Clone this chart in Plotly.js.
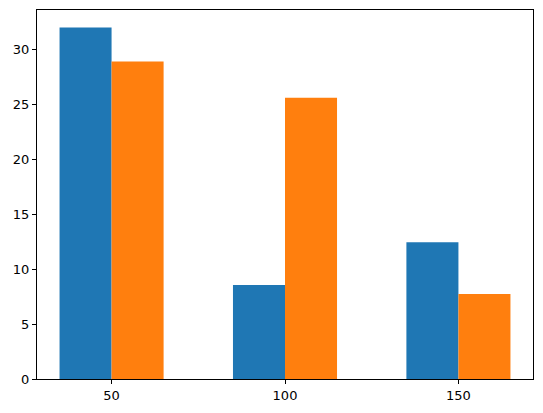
<!DOCTYPE html>
<html>
<head>
<meta charset="utf-8">
<script src="https://cdn.plot.ly/plotly-3.0.1.min.js"></script>
<style>html,body{margin:0;padding:0;background:#fff;}#chart{width:543px;height:413px;}</style>
</head>
<body>
<div id="chart"></div>
<script>
const xPositions = [50, 100, 150];
const seriesA = [32.0, 8.55, 12.45];
const seriesB = [28.9, 25.6, 7.75];
const tickLabels = ['50', '100', '150'];

const traces = [
  {type: 'bar', x: xPositions, y: seriesA, width: 15, offset: -15,
   marker: {color: '#1f77b4', line: {width: 0}}, hoverinfo: 'none'},
  {type: 'bar', x: xPositions, y: seriesB, width: 15, offset: 0,
   marker: {color: '#ff7f0e', line: {width: 0}}, hoverinfo: 'none'}
];

const axisCommon = {
  showgrid: false, zeroline: false, showline: true, mirror: true,
  linecolor: '#000', linewidth: 1, ticks: 'outside', ticklen: 4,
  tickcolor: '#000', tickwidth: 1,
  tickfont: {family: 'DejaVu Sans', size: 13, color: '#000'}
};

const layout = {
  width: 543, height: 413,
  margin: {l: 37, r: 10, t: 10, b: 34},
  paper_bgcolor: '#fff', plot_bgcolor: '#fff',
  showlegend: false, barmode: 'overlay',
  xaxis: Object.assign({}, axisCommon, {range: [28.5, 171.5], tickmode: 'array', tickvals: xPositions, ticktext: tickLabels}),
  yaxis: Object.assign({}, axisCommon, {range: [0, 33.6], tickmode: 'array', tickvals: [0,5,10,15,20,25,30]})
};

Plotly.newPlot('chart', traces, layout, {staticPlot: true});
</script>
</body>
</html>
